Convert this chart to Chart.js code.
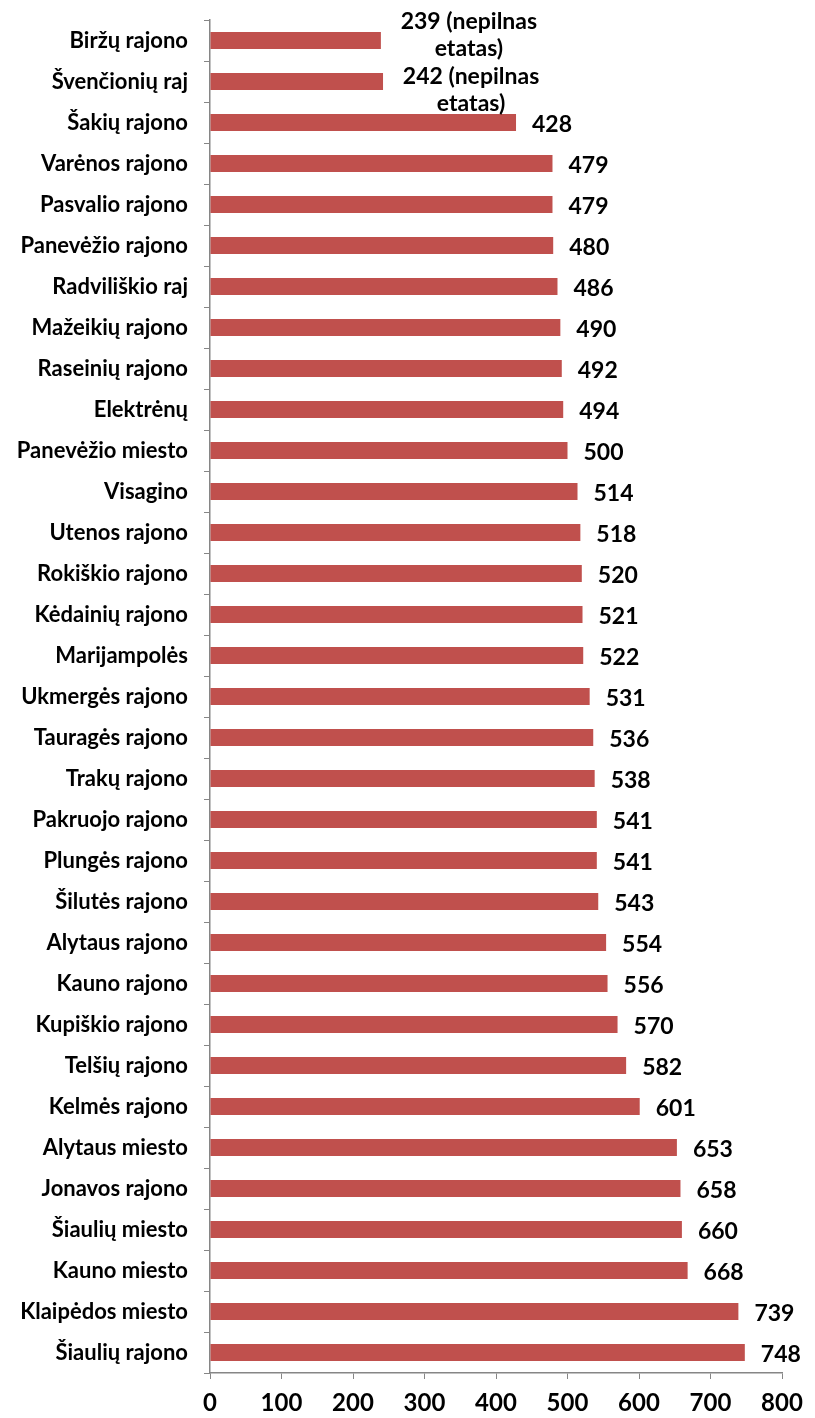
<!DOCTYPE html>
<html>
<head>
<meta charset="utf-8">
<script src="https://cdn.jsdelivr.net/npm/chart.js@4"></script>
<style>
  html, body { margin: 0; padding: 0; background: #fff; }
  #wrap { width: 815px; height: 1418px; position: relative; }
</style>
</head>
<body>
<div id="wrap"><canvas id="chart"></canvas></div>
<script>
// Categories (top to bottom) and values
const districts = [
  'Biržų rajono', 'Švenčionių raj', 'Šakių rajono', 'Varėnos rajono', 'Pasvalio rajono',
  'Panevėžio rajono', 'Radviliškio raj', 'Mažeikių rajono', 'Raseinių rajono', 'Elektrėnų',
  'Panevėžio miesto', 'Visagino', 'Utenos rajono', 'Rokiškio rajono', 'Kėdainių rajono',
  'Marijampolės', 'Ukmergės rajono', 'Tauragės rajono', 'Trakų rajono', 'Pakruojo rajono',
  'Plungės rajono', 'Šilutės rajono', 'Alytaus rajono', 'Kauno rajono', 'Kupiškio rajono',
  'Telšių rajono', 'Kelmės rajono', 'Alytaus miesto', 'Jonavos rajono', 'Šiaulių miesto',
  'Kauno miesto', 'Klaipėdos miesto', 'Šiaulių rajono'
];
const values = [
  239, 242, 428, 479, 479, 480, 486, 490, 492, 494,
  500, 514, 518, 520, 521, 522, 531, 536, 538, 541,
  541, 543, 554, 556, 570, 582, 601, 653, 658, 660,
  668, 739, 748
];
// extra note shown next to some values
const notes = ['(nepilnas etatas)', '(nepilnas etatas)'];
const xTicks = [0, 100, 200, 300, 400, 500, 600, 700, 800];

const FONT = 'Lato, "Open Sans", sans-serif';

// draws the value labels next to each bar
const valueLabels = {
  id: 'valueLabels',
  afterDatasetsDraw(chart) {
    const ctx = chart.ctx;
    const meta = chart.getDatasetMeta(0);
    ctx.save();
    ctx.fillStyle = '#000';
    ctx.font = 'bold 23px ' + FONT;
    ctx.textBaseline = 'middle';
    meta.data.forEach((bar, i) => {
      const v = values[i];
      if (notes[i]) {
        // two-line label, centred; the first one sits a bit higher in the original
        const words = notes[i].split(' ');
        const lines = [v + ' ' + words[0], words.slice(1).join(' ')];
        const cx = bar.x + 88;
        const dy = i === 0 ? -19 : -5;
        ctx.textAlign = 'center';
        ctx.fillText(lines[0], cx, bar.y + dy);
        ctx.fillText(lines[1], cx, bar.y + dy + 27);
      } else {
        ctx.textAlign = 'left';
        ctx.fillText(String(v), bar.x + 16, bar.y + 2);
      }
    });
    ctx.restore();
  }
};

new Chart(document.getElementById('chart'), {
  type: 'bar',
  data: {
    labels: districts,
    datasets: [{
      data: values,
      backgroundColor: '#C0504D',
      borderWidth: 0,
      categoryPercentage: 1,
      barPercentage: 0.41
    }]
  },
  options: {
    indexAxis: 'y',
    responsive: true,
    maintainAspectRatio: false,
    animation: false,
    layout: { padding: { top: 20, right: 33, left: 0, bottom: 0 } },
    plugins: {
      legend: { display: false },
      tooltip: { enabled: false }
    },
    scales: {
      x: {
        min: 0,
        max: 800,
        afterBuildTicks: s => { s.ticks = xTicks.map(v => ({ value: v })); },
        afterFit: s => { s.height = 45; },
        grid: { drawOnChartArea: false, drawTicks: true, tickLength: 6, color: '#868686' },
        border: { color: '#868686', width: 1.5 },
        ticks: {
          color: '#000',
          padding: 10,
          font: { family: FONT, size: 24, weight: '700' }
        }
      },
      y: {
        afterFit: s => { s.width = 210; s.paddingTop = 0; s.paddingBottom = 0; },
        grid: { drawOnChartArea: false, drawTicks: true, tickLength: 6, color: '#868686', offset: true },
        border: { color: '#868686', width: 1.5 },
        ticks: {
          color: '#000',
          padding: 16,
          autoSkip: false,
          font: { family: FONT, size: 22, weight: '700' }
        }
      }
    }
  },
  plugins: [valueLabels]
});
</script>
</body>
</html>
